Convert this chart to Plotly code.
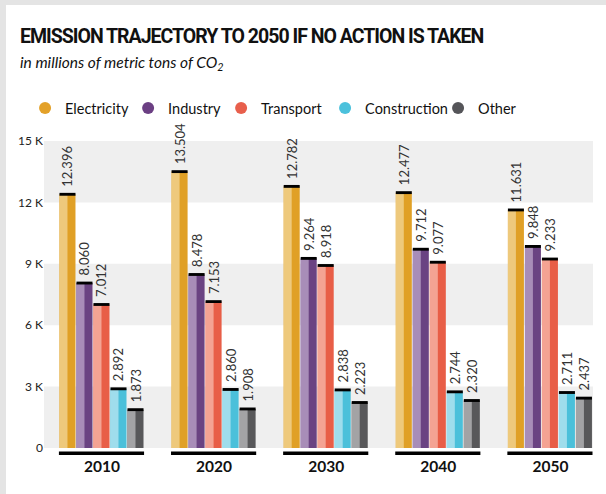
import plotly.graph_objects as go

# ---- data ----
years = ["2010", "2020", "2030", "2040", "2050"]
series_names = ["Electricity", "Industry", "Transport", "Construction", "Other"]
electricity = [12396, 13504, 12782, 12477, 11631]
industry = [8060, 8478, 9264, 9712, 9848]
transport = [7012, 7153, 8918, 9077, 9233]
construction = [2892, 2860, 2838, 2744, 2711]
other = [1873, 1908, 2223, 2320, 2437]
y_tickvals = [0, 3000, 6000, 9000, 12000, 15000]
y_ticktext = ["0", "3 K", "6 K", "9 K", "12 K", "15 K"]

main_colors = ["#E0A026", "#6A4382", "#E85E47", "#4BC0DA", "#58585A"]
light_colors = ["#EEC97C", "#A88DB8", "#F4A393", "#9FDDEC", "#A3A3A5"]
legend_colors = ["#E3A129", "#6B3F83", "#E85F4C", "#4BC1DC", "#555559"]

all_series = [electricity, industry, transport, construction, other]

BODY = "Lato, 'Open Sans', sans-serif"
TITLE_FONT = "Roboto, sans-serif"

pitch = 0.1517
bar_w = 0.1428
start = -0.379
cap_h = 140
label_gap = 220

# legend entry left edges (paper units)
legend_x = [-0.0345, 0.1532, 0.3226, 0.5120, 0.7178]

x = list(range(len(years)))
fig = go.Figure()

for i, (name, vals) in enumerate(zip(series_names, all_series)):
    off = start + i * pitch
    fig.add_trace(go.Bar(
        x=x, y=vals, offset=off, width=bar_w,
        marker=dict(color=main_colors[i], line=dict(width=0)),
        showlegend=False, hoverinfo="skip"))
    fig.add_trace(go.Bar(
        x=x, y=vals, offset=off, width=bar_w * 0.5,
        marker=dict(color=light_colors[i], line=dict(width=0)),
        showlegend=False, hoverinfo="skip"))
    fig.add_trace(go.Bar(
        x=x, y=[cap_h] * len(vals), base=[v - cap_h / 2 for v in vals],
        offset=off, width=bar_w,
        marker=dict(color="#000000", line=dict(width=0)),
        showlegend=False, hoverinfo="skip"))
    fig.add_trace(go.Bar(
        x=x, y=[label_gap] * len(vals), base=vals,
        offset=off, width=bar_w,
        marker=dict(color="rgba(0,0,0,0)", line=dict(width=0)),
        text=[f"{v:,}".replace(",", ".") for v in vals],
        textposition="outside", textangle=-90, constraintext="none",
        cliponaxis=False,
        textfont=dict(family=BODY, size=13, color="#333333"),
        showlegend=False, hoverinfo="skip"))

legend_layouts = {}
for i, name in enumerate(series_names):
    lg = "legend" if i == 0 else f"legend{i + 1}"
    fig.add_trace(go.Scatter(
        x=[None], y=[None], mode="markers", name=name, legend=lg,
        marker=dict(symbol="circle", size=15, color=legend_colors[i])))
    legend_layouts[lg] = dict(orientation="h", x=legend_x[i], xanchor="left",
                              y=1.107, yanchor="middle",
                              font=dict(family=BODY, size=14.5, color="#111111"),
                              itemsizing="constant", bgcolor="rgba(0,0,0,0)")

shapes = []
# alternating bands
for k in range(0, len(y_tickvals) - 1, 2):
    shapes.append(dict(type="rect", xref="paper", yref="y", x0=0, x1=1,
                       y0=y_tickvals[k], y1=y_tickvals[k + 1],
                       fillcolor="#EFEFEF", line=dict(width=0), layer="below"))
# group baselines
for i in x:
    shapes.append(dict(type="line", xref="x", yref="paper",
                       x0=i + start - 0.005, x1=i + start + 4 * pitch + bar_w + 0.005,
                       y0=-0.017, y1=-0.017, line=dict(color="#000000", width=3.5)))
# outer frame
shapes.append(dict(type="rect", xref="paper", yref="paper", x0=-0.09, x1=-0.0692,
                   y0=-0.16, y1=1.47, fillcolor="#E4E4E4", line=dict(width=0)))
shapes.append(dict(type="rect", xref="paper", yref="paper", x0=-0.09, x1=1.03,
                   y0=1.4428, y1=1.47, fillcolor="#E4E4E4", line=dict(width=0)))

annotations = [
    dict(text="<span style='letter-spacing:-1px'><b>EMISSION TRAJECTORY TO 2050 IF NO ACTION IS TAKEN</b></span>",
         xref="paper", yref="paper", x=-0.0474, y=1.339, xanchor="left", yanchor="middle",
         showarrow=False, font=dict(family=TITLE_FONT, size=19.5, color="#111111")),
    dict(text="<i>in millions of metric tons of CO<sub>2</sub></i>",
         xref="paper", yref="paper", x=-0.0474, y=1.255, xanchor="left", yanchor="middle",
         showarrow=False, font=dict(family=BODY, size=15.5, color="#111111")),
]

fig.update_layout(
    width=606, height=494,
    margin=dict(l=44, r=13, t=141, b=46),
    paper_bgcolor="#FFFFFF", plot_bgcolor="#FFFFFF",
    barmode="overlay",
    shapes=shapes, annotations=annotations,
    font=dict(family=BODY, color="#222222"),
    xaxis=dict(range=[-0.517, 4.38], tickvals=x, ticktext=[f"<b>{y}</b>" for y in years],
               showgrid=False, zeroline=False, showline=False, ticks="",
               ticklabelstandoff=7,
               tickfont=dict(family=BODY, size=15.5, color="#111111"), fixedrange=True),
    yaxis=dict(range=[0, 15000], tickvals=y_tickvals, ticktext=y_ticktext,
               showgrid=False, zeroline=False, showline=False, ticks="",
               tickfont=dict(family=BODY, size=12, color="#222222"), fixedrange=True),
    **legend_layouts,
)

fig.write_html("out.html", config={"displayModeBar": False},
               post_script="document.body.style.margin='0px';")
